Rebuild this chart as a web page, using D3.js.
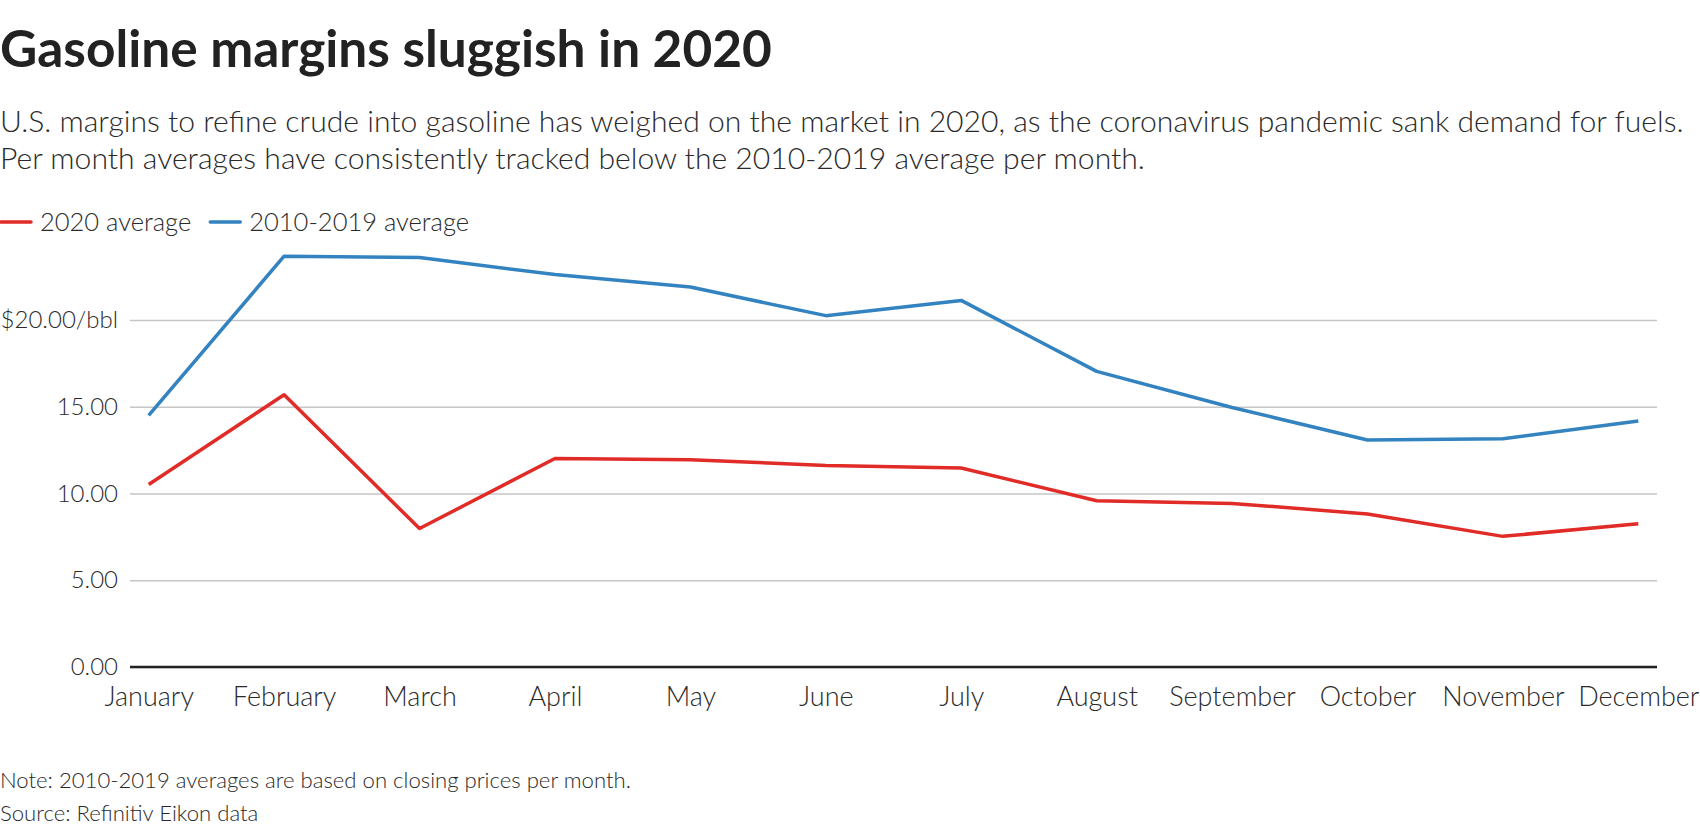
<!DOCTYPE html>
<html>
<head>
<meta charset="utf-8">
<script src="https://cdn.jsdelivr.net/npm/d3@7"></script>
<style>
  body { margin: 0; background: #fff; }
  svg { display: block; font-family: Lato, "Noto Sans", sans-serif; }
</style>
</head>
<body>
<svg id="chart" width="1700" height="840"></svg>
<script>
// chart data
var months = ["January", "February", "March", "April", "May", "June",
  "July", "August", "September", "October", "November", "December"];
var avg2020 = [10.52, 15.69, 7.98, 12.02, 11.95, 11.62, 11.47, 9.58, 9.43, 8.82, 7.53, 8.26];
var avg2010_2019 = [14.50, 23.68, 23.60, 22.62, 21.90, 20.25, 21.13, 17.04, 14.96, 13.08, 13.16, 14.18];
var yTicks = [0, 5, 10, 15, 20];
var yTickLabels = ["0.00", "5.00", "10.00", "15.00", "$20.00/bbl"];

var series = [
  { name: "2020 average", values: avg2020, color: "#e02b27" },
  { name: "2010-2019 average", values: avg2010_2019, color: "#3383c0" }
];

var svg = d3.select("#chart");
var textColor = "#222";

// scale font size so a text line hits a target width
function fitWidth(sel, target) {
  var w = sel.node().getComputedTextLength();
  var fs = parseFloat(sel.attr("font-size"));
  sel.attr("font-size", fs * target / w);
  return fs * target / w;
}

// title + subtitle
var title = svg.append("text")
  .attr("x", 0).attr("y", 67)
  .attr("font-size", 48).attr("font-weight", 700)
  .attr("fill", textColor)
  .text("Gasoline margins sluggish in 2020");
fitWidth(title, 772);

var sub1 = svg.append("text")
  .attr("x", 0).attr("y", 132)
  .attr("font-size", 28).attr("font-weight", 300)
  .attr("fill", "#2a2a2a")
  .text("U.S. margins to refine crude into gasoline has weighed on the market in 2020, as the coronavirus pandemic sank demand for fuels.");
var subSize = fitWidth(sub1, 1684);

svg.append("text")
  .attr("x", 0).attr("y", 169)
  .attr("font-size", subSize).attr("font-weight", 300)
  .attr("fill", "#2a2a2a")
  .text("Per month averages have consistently tracked below the 2010-2019 average per month.");

// legend
var legend = svg.append("g").attr("transform", "translate(0,222)");
var lx = 0;
series.forEach(function(s) {
  legend.append("line")
    .attr("x1", lx + 1).attr("x2", lx + 31)
    .attr("y1", 0).attr("y2", 0)
    .attr("stroke", s.color).attr("stroke-width", 3.5)
    .attr("stroke-linecap", "round");
  var t = legend.append("text")
    .attr("x", lx + 40).attr("y", 0).attr("dy", "0.35em")
    .attr("font-size", 25.5).attr("font-weight", 300)
    .attr("fill", "#2a2a2a")
    .text(s.name);
  lx += 40 + t.node().getComputedTextLength() + 18;
});

// scales
var left = 130, right = 1657;
var x = d3.scalePoint().domain(months).range([left, right]).padding(0.138);
var y = d3.scaleLinear().domain([0, 25]).range([667, 233.25]);

// grid + y labels
var yAxis = d3.axisLeft(y)
  .tickValues(yTicks)
  .tickSize(-(right - left))
  .tickPadding(12)
  .tickFormat(function(d, i) { return yTickLabels[i]; });

var gy = svg.append("g")
  .attr("transform", "translate(" + left + ",0)")
  .call(yAxis);
gy.select(".domain").remove();
gy.selectAll(".tick line")
  .attr("stroke", "#c6c6c6").attr("stroke-width", 1.5);
gy.selectAll(".tick text")
  .attr("font-size", 24).attr("font-weight", 300)
  .attr("font-family", "Lato, 'Noto Sans', sans-serif")
  .attr("fill", "#2a2a2a");

// baseline
svg.append("line")
  .attr("x1", left).attr("x2", right)
  .attr("y1", y(0)).attr("y2", y(0))
  .attr("stroke", "#222").attr("stroke-width", 2.5);

// x axis labels
var xAxis = d3.axisBottom(x).tickSize(0).tickPadding(20);
var gx = svg.append("g")
  .attr("transform", "translate(0," + y(0) + ")")
  .call(xAxis);
gx.select(".domain").remove();
gx.selectAll(".tick text")
  .attr("font-size", 27).attr("font-weight", 300)
  .attr("font-family", "Lato, 'Noto Sans', sans-serif")
  .attr("fill", "#2a2a2a");

// lines
var line = d3.line()
  .x(function(d, i) { return x(months[i]); })
  .y(function(d) { return y(d); });

series.forEach(function(s) {
  svg.append("path")
    .datum(s.values)
    .attr("d", line)
    .attr("fill", "none")
    .attr("stroke", s.color)
    .attr("stroke-width", 3.5)
    .attr("stroke-linejoin", "round");
});

// footnotes
var note = svg.append("text")
  .attr("x", 0).attr("y", 788)
  .attr("font-size", 20).attr("font-weight", 300)
  .attr("fill", "#2a2a2a")
  .text("Note: 2010-2019 averages are based on closing prices per month.");
var noteSize = fitWidth(note, 631);

svg.append("text")
  .attr("x", 0).attr("y", 821)
  .attr("font-size", noteSize).attr("font-weight", 300)
  .attr("fill", "#2a2a2a")
  .text("Source: Refinitiv Eikon data");
</script>
</body>
</html>
